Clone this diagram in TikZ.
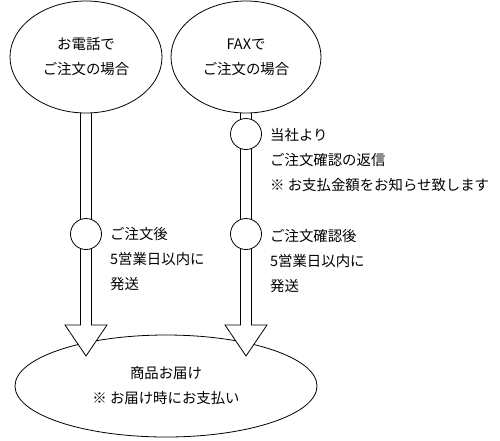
\documentclass[tikz,border=0pt]{standalone}
\usepackage{fontspec}
\setmainfont{Noto Sans CJK JP}
\usetikzlibrary{shapes.geometric,calc}
\pgfdeclarelayer{bottomlayer}
\pgfdeclarelayer{arrowlayer}
\pgfsetlayers{bottomlayer,arrowlayer,main}
\begin{document}
\begin{tikzpicture}[x=1pt,y=-1pt,
  txt/.style={font=\fontsize{14.4}{25}\selectfont, inner sep=0pt},
  oval/.style={ellipse, draw, fill=white, line width=0.8pt, inner sep=0pt, align=center,
    font=\fontsize{14.4}{25}\selectfont},
  dot/.style={circle, draw, fill=white, line width=0.8pt, minimum size=31pt, inner sep=0pt},
  note/.style={txt, anchor=west, align=left},
  fatarrow/.style={draw, fill=white, line width=0.8pt, line join=miter,
    to path={let \p1=(\tikztostart), \p2=(\tikztotarget) in
      (\x1-5.5pt,\y1) -- (\x1-5.5pt,\y2+31pt) -- (\x1-21pt,\y2+31pt) -- (\x1,\y2)
      -- (\x1+21pt,\y2+31pt) -- (\x1+5.5pt,\y2+31pt) -- (\x1+5.5pt,\y1) -- cycle}}
]
\useasboundingbox (0,0) rectangle (500,440);

% top ellipses
\node[oval, minimum width=152pt, minimum height=112pt] (tel) at (86,57) {お電話で\\ご注文の場合};
\node[oval, minimum width=150pt, minimum height=112pt] (fax) at (246,57) {FAXで\\ご注文の場合};

% bottom ellipse
\begin{pgfonlayer}{bottomlayer}
\node[oval, minimum width=302pt, minimum height=102pt] (deliv) at (166,386) {商品お届け\\※ お届け時にお支払い};
\end{pgfonlayer}

\coordinate (tipL) at (86,356);
\coordinate (tipR) at (246,356);

\begin{pgfonlayer}{arrowlayer}
\path[fatarrow] (tel.center) to (tipL);
\path[fatarrow] (fax.center) to (tipR);
\end{pgfonlayer}

% circles
\node[dot] (cL) at (86,234) {};
\node[dot] (cR1) at (246,134) {};
\node[dot] (cR2) at (246,234) {};

% notes
\node[note] (nL) at (110,259) {ご注文後\\5営業日以内に\\発送};
\node[note] (nR1) at (270,160) {当社より\\ご注文確認の返信\\※ お支払金額をお知らせ致します};
\node[note] (nR2) at (270,261) {ご注文確認後\\5営業日以内に\\発送};
\end{tikzpicture}
\end{document}
